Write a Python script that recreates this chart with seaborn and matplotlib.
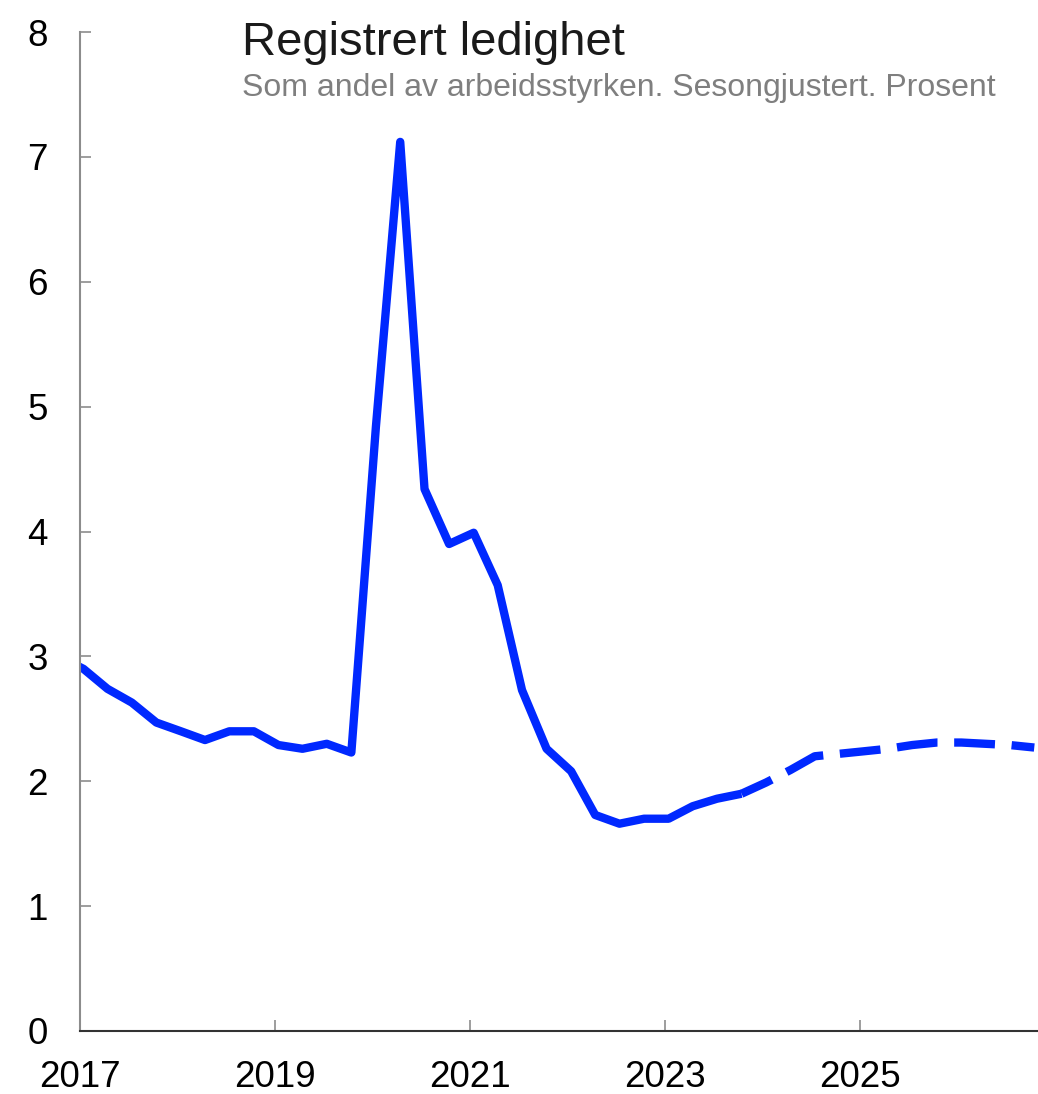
import matplotlib
matplotlib.use("Agg")
import matplotlib.pyplot as plt
import seaborn as sns
import pandas as pd

# ---- data ----
actual_quarters = ["2016Q4",
                   "2017Q1", "2017Q2", "2017Q3", "2017Q4",
                   "2018Q1", "2018Q2", "2018Q3", "2018Q4",
                   "2019Q1", "2019Q2", "2019Q3", "2019Q4",
                   "2020Q1", "2020Q2", "2020Q3", "2020Q4",
                   "2021Q1", "2021Q2", "2021Q3", "2021Q4",
                   "2022Q1", "2022Q2", "2022Q3", "2022Q4",
                   "2023Q1", "2023Q2", "2023Q3", "2023Q4"]
actual_values = [3.00,
                 2.90, 2.74, 2.63, 2.47,
                 2.40, 2.33, 2.40, 2.40,
                 2.29, 2.26, 2.30, 2.23,
                 4.84, 7.12, 4.34, 3.90,
                 3.99, 3.57, 2.73, 2.26,
                 2.08, 1.73, 1.66, 1.70,
                 1.70, 1.80, 1.86, 1.90]

proj_quarters = ["2023Q4",
                 "2024Q1", "2024Q2", "2024Q3", "2024Q4",
                 "2025Q1", "2025Q2", "2025Q3", "2025Q4",
                 "2026Q1", "2026Q2", "2026Q3", "2026Q4"]
proj_values = [1.90,
               1.99, 2.09, 2.20, 2.22,
               2.24, 2.26, 2.29, 2.31,
               2.31, 2.30, 2.29, 2.27]

tick_years = [2017, 2019, 2021, 2023, 2025]
y_ticks = [0, 1, 2, 3, 4, 5, 6, 7, 8]

title = "Registrert ledighet"
subtitle = "Som andel av arbeidsstyrken. Sesongjustert. Prosent"

# ---- build frames ----
def q_to_date(q):
    return pd.Period(q, freq="Q").start_time + pd.Timedelta(days=13)

df_act = pd.DataFrame({"date": [q_to_date(q) for q in actual_quarters],
                       "value": actual_values})
df_proj = pd.DataFrame({"date": [q_to_date(q) for q in proj_quarters],
                        "value": proj_values})

# ---- style ----
sns.set_theme(style="white")
plt.rcParams["font.family"] = ["Liberation Sans", "DejaVu Sans"]

W, H = 1038, 1094
fig = plt.figure(figsize=(W / 100, H / 100), dpi=100)
ax = fig.add_axes([80 / W, (H - 1031) / H, (W - 80) / W, (1031 - 32) / H])

blue = "#0028ff"
lw = 6.0
sns.lineplot(data=df_act, x="date", y="value", ax=ax, color=blue,
             linewidth=lw, solid_joinstyle="round", solid_capstyle="butt")
sns.lineplot(data=df_proj, x="date", y="value", ax=ax, color=blue,
             linewidth=lw, linestyle=(0.9, (4.9, 2.0)),
             dash_capstyle="butt")

ax.set_xlim(pd.Timestamp("2017-01-01"), pd.Timestamp("2026-10-28"))
ax.set_ylim(0, 8)
ax.set_yticks(y_ticks)
ax.set_yticklabels([str(v) for v in y_ticks])
ax.set_xticks([pd.Timestamp(f"{y}-01-01") for y in tick_years])
ax.set_xticklabels([str(y) for y in tick_years])
ax.set_xlabel("")
ax.set_ylabel("")

for s in ["top", "right"]:
    ax.spines[s].set_visible(False)
ax.spines["left"].set_color("#8c8c8c")
ax.spines["left"].set_linewidth(1.5)
ax.spines["bottom"].set_color("#333333")
ax.spines["bottom"].set_linewidth(1.5)

ax.tick_params(axis="y", left=True, direction="in", length=8, width=1.2,
               color="#8c8c8c", labelsize=26.5, pad=23, labelcolor="#000000")
ax.tick_params(axis="x", bottom=True, direction="in", length=8, width=1.2,
               color="#8c8c8c", labelsize=26.5, pad=21, labelcolor="#000000")

fig.text(242 / W, 1 - 55 / H, title, fontsize=34, color="#1a1a1a",
         ha="left", va="baseline")
fig.text(242 / W, 1 - 96 / H, subtitle, fontsize=23, color="#7f7f7f",
         ha="left", va="baseline")

fig.savefig("out.png", dpi=100)
